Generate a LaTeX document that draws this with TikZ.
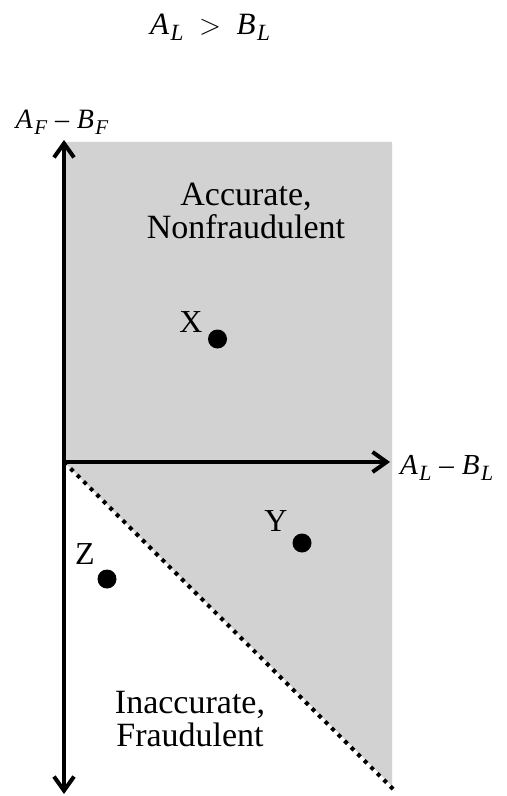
\documentclass[tikz,border=0pt]{standalone}
\usepackage{fontspec}
\setmainfont{Liberation Serif}
\usetikzlibrary{arrows.meta}

\definecolor{cd2d2d2}{RGB}{210,210,210}
\def \globalscale {0.500000}

% italic letter with italic subscript
\newcommand{\varsub}[2]{\textit{#1}\kern0.05em\raisebox{-0.45ex}{\fontsize{0.75em}{0.75em}\selectfont\textit{#2}}}

\tikzset{
  axis/.style={line width=2pt, -{Straight Barb[length=7pt,width=10pt,line width=2pt]}},
  region/.style={fill=cd2d2d2, draw=none},
  border/.style={line width=2pt, dash pattern=on 2pt off 2.6pt},
  point/.style={circle, fill=black, minimum size=9.5pt, inner sep=0pt},
  lbl/.style={font=\fontsize{16}{16}\selectfont},
  zonetext/.style={font=\fontsize{17}{16.5}\selectfont, align=center},
}

\begin{document}
\begin{tikzpicture}[x=\globalscale pt, y=-\globalscale pt, inner sep=0pt, outer sep=0pt]
  \useasboundingbox (0,0) rectangle (507,796);

  % corners
  \coordinate (origin) at (64,462);
  \coordinate (ytop) at (64,140);
  \coordinate (ybot) at (64,794);
  \coordinate (xend) at (390,462);
  \coordinate (cutend) at (395,791);

  % shaded region
  \path[region] (64,142) -- (392,142) -- (392,786) -- (origin) -- cycle;

  % cut line
  \draw[border] (origin) -- (cutend);

  % axes
  \draw[axis] (origin) -- (ytop);
  \draw[axis] (origin) -- (ybot);
  \draw[axis] (origin) -- (xend);

  \node[font=\fontsize{15.5}{15.5}\selectfont] (title) at (210,27) {\varsub{A}{L}\enspace$>$\enspace\varsub{B}{L}};
  \node[font=\fontsize{14}{14}\selectfont] (ylabel) at (62,122) {\varsub{A}{F}\;–\;\varsub{B}{F}};
  \node[font=\fontsize{14.5}{14.5}\selectfont, anchor=west] (xlabel) at (400,468) {\varsub{A}{L}\;–\;\varsub{B}{L}};

  \node[zonetext] (accurate) at (246,211) {Accurate,\\Nonfraudulent};
  \node[zonetext] (inaccurate) at (190,719) {Inaccurate,\\Fraudulent};

  \node[point] (ptx) at (217.5,339) {};
  \node[point] (pty) at (302,543) {};
  \node[point] (ptz) at (107,579) {};
  \node[lbl] (labx) at (191,322) {X};
  \node[lbl] (laby) at (276,521) {Y};
  \node[lbl] (labz) at (85,554) {Z};

\end{tikzpicture}
\end{document}
